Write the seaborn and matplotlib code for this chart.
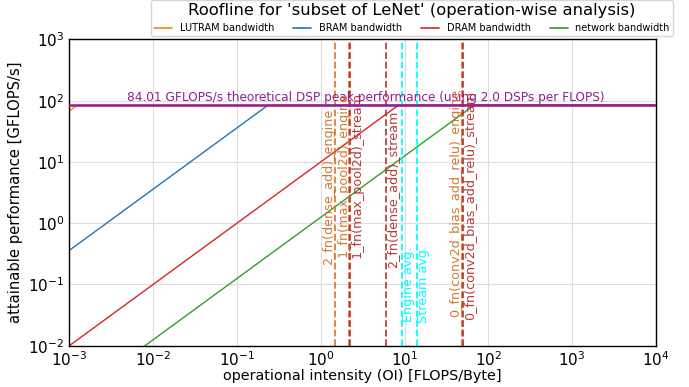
import numpy as np
import pandas as pd
import matplotlib
matplotlib.use("Agg")
import matplotlib.pyplot as plt
import seaborn as sns
from matplotlib.lines import Line2D

# ---- data ----
peak_perf = 84.01            # GFLOPS/s
roof_names = ["LUTRAM bandwidth", "BRAM bandwidth", "DRAM bandwidth", "network bandwidth"]
roof_bw = [68000.0, 360.0, 10.0, 1.25]   # GB/s
roof_colors = ["tab:orange", "tab:blue", "tab:red", "tab:green"]

op_labels = ["0_fn(conv2d_bias_add_relu)", "1_fn(max_pool2d)", "2_fn(dense_add)"]
op_engine_oi = [48.5, 2.20, 1.48]
op_stream_oi = [49.5, 2.26, 5.97]
op_engine_text_y = [0.0292, 0.279, 0.207]
op_stream_text_y = [0.0261, 0.269, 0.185]
avg_labels = ["Engine avg.", "Stream avg."]
avg_oi = [9.4, 14.0]
avg_text_y = [0.0242, 0.0233]

x_min, x_max = 1e-3, 1e4
y_min, y_max = 1e-2, 1e3

sns.set_theme(style="white")
plt.rcParams["font.family"] = ["DejaVu Sans"]
plt.rcParams["text.color"] = "black"
plt.rcParams["axes.labelcolor"] = "black"
plt.rcParams["xtick.color"] = "black"
plt.rcParams["ytick.color"] = "black"

fig = plt.figure(figsize=(6.89, 3.87), dpi=100)
ax = fig.add_axes([0.1006, 0.1067, 0.8514, 0.7913])

rows = []
for name, bw in zip(roof_names, roof_bw):
    ridge = peak_perf / bw
    for xv in [x_min, ridge, x_max]:
        rows.append({"roof": name, "oi": xv, "perf": min(peak_perf, bw * xv)})
df = pd.DataFrame(rows)
sns.lineplot(data=df, x="oi", y="perf", hue="roof", hue_order=roof_names,
             palette=roof_colors, ax=ax, linewidth=1.0, legend=False, sort=False,
             estimator=None)

ax.set_xscale("log")
ax.set_yscale("log")
ax.set_xlim(x_min, x_max)
ax.set_ylim(y_min, y_max)

ax.axhline(peak_perf, color="#931c93", linewidth=1.8, zorder=5)
ax.text(0.505, peak_perf * 1.07,
        "84.01 GFLOPS/s theoretical DSP peak performance (using 2.0 DSPs per FLOPS)",
        transform=ax.get_yaxis_transform(), ha="center", va="bottom",
        color="#931c93", fontsize=8.7)

eng_c = "chocolate"
str_c = "firebrick"
for lab, xe, xs, ye, ys in zip(op_labels, op_engine_oi, op_stream_oi,
                               op_engine_text_y, op_stream_text_y):
    ax.axvline(xe, color=eng_c, linestyle="--", linewidth=1.3, alpha=0.85)
    ax.axvline(xs, color=str_c, linestyle="--", linewidth=1.3, alpha=0.85)
    ax.text(xe, ye, lab + "_engine", rotation=90, ha="right", va="bottom",
            color=eng_c, fontsize=9.2, alpha=0.9)
    ax.text(xs, ys, lab + "_stream", rotation=90, ha="left", va="bottom",
            color=str_c, fontsize=9.2, alpha=0.9)

for lab, xv, yv in zip(avg_labels, avg_oi, avg_text_y):
    ax.axvline(xv, color="cyan", linestyle="--", linewidth=1.3)
    ax.text(xv, yv, lab, rotation=90, ha="left", va="bottom", color="cyan", fontsize=9.2)

ax.grid(True, which="major", color="#dddddd", linewidth=0.8)
for s in ax.spines.values():
    s.set_color("black")
    s.set_linewidth(1.0)
ax.tick_params(which="both", direction="in", labelsize=11)
ax.tick_params(which="major", length=4)
ax.tick_params(which="minor", length=2)
ax.set_xlabel("operational intensity (OI) [FLOPS/Byte]", fontsize=10.4, labelpad=0)
ax.set_ylabel("attainable performance [GFLOPS/s]", fontsize=10.6, labelpad=4)

handles = [Line2D([], [], color=c, linewidth=1.2) for c in roof_colors]
leg = fig.legend(handles, roof_names, loc="upper center", bbox_to_anchor=(0.598, 1.012),
                 ncol=4, fontsize=7, title="Roofline for 'subset of LeNet' (operation-wise analysis)",
                 title_fontsize=11.8, frameon=True, handlelength=1.8, columnspacing=2.0,
                 borderpad=0.3)
leg.get_frame().set_edgecolor("#cccccc")

fig.savefig("out.png", dpi=100)
